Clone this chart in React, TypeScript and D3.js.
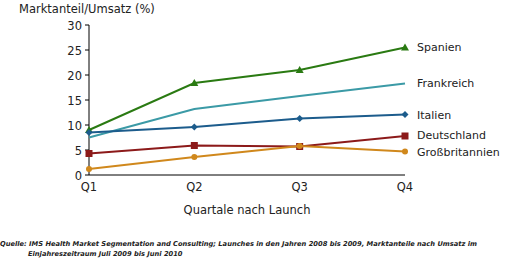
import React from "react";
import * as d3 from "d3";

const quarters = ["Q1", "Q2", "Q3", "Q4"];
const yTicks = [0, 5, 10, 15, 20, 25, 30];

const spanien = [9, 18.4, 21, 25.5];
const frankreich = [7.5, 13.2, 15.8, 18.3];
const italien = [8.5, 9.6, 11.3, 12.1];
const deutschland = [4.3, 5.9, 5.7, 7.8];
const grossbritannien = [1.2, 3.6, 5.8, 4.7];

const seriesNames = ["Spanien", "Frankreich", "Italien", "Deutschland", "Großbritannien"];
const seriesColors = ["#2a7a12", "#3b9aa6", "#1c5c8c", "#8c1a1a", "#d0881c"];
const seriesMarkers = ["triangle", "none", "diamond", "square", "circle"];
const labelValues = [25.6, 18.4, 12.1, 8, 4.6];

const FONT = "Tahoma, 'DejaVu Sans', Verdana, sans-serif";

export default function App() {
  const width = 505;
  const height = 262;
  const left = 89;
  const right = 405;
  const top = 25;
  const bottom = 175;

  const x = d3.scalePoint<string>().domain(quarters).range([left, right]);
  const y = d3.scaleLinear().domain([0, 30]).range([bottom, top]);

  const allSeries = [spanien, frankreich, italien, deutschland, grossbritannien];

  const line = d3
    .line<number>()
    .x((_, i) => x(quarters[i]) as number)
    .y((d) => y(d));

  const marker = (kind: string, cx: number, cy: number, color: string, key: string) => {
    if (kind === "triangle") {
      return <path key={key} d={`M${cx},${cy - 4}L${cx + 4},${cy + 3}L${cx - 4},${cy + 3}Z`} fill={color} />;
    }
    if (kind === "diamond") {
      return <path key={key} d={`M${cx},${cy - 3.5}L${cx + 3.5},${cy}L${cx},${cy + 3.5}L${cx - 3.5},${cy}Z`} fill={color} />;
    }
    if (kind === "square") {
      return <rect key={key} x={cx - 3.5} y={cy - 3.5} width={7} height={7} fill={color} />;
    }
    if (kind === "circle") {
      return <circle key={key} cx={cx} cy={cy} r={3} fill={color} />;
    }
    return null;
  };

  return (
    <svg
      width={width}
      height={height}
      style={{ position: "absolute", left: 0, top: 0, background: "#fff" }}
      fontFamily={FONT}
    >
      <text x={19} y={13} fontSize={11.5} fill="#222">
        Marktanteil/Umsatz (%)
      </text>

      {/* y axis */}
      <line x1={left} y1={top} x2={left} y2={bottom} stroke="#000" />
      {yTicks.map((t) => (
        <g key={t}>
          <line x1={left - 4} y1={y(t)} x2={left} y2={y(t)} stroke="#000" />
          <text x={left - 7} y={y(t) + 4.5} fontSize={11.5} textAnchor="end" fill="#222">
            {t}
          </text>
        </g>
      ))}

      {/* x axis */}
      <line x1={left} y1={bottom} x2={right} y2={bottom} stroke="#000" />
      {quarters.map((q) => (
        <text key={q} x={x(q)} y={bottom + 16} fontSize={11.5} textAnchor="middle" fill="#222">
          {q}
        </text>
      ))}
      <text x={(left + right) / 2} y={214} fontSize={11.5} textAnchor="middle" fill="#222">
        Quartale nach Launch
      </text>

      {allSeries.map((s, si) => (
        <g key={seriesNames[si]}>
          <path d={line(s) || ""} fill="none" stroke={seriesColors[si]} strokeWidth={2} />
          {s.map((v, i) =>
            marker(seriesMarkers[si], x(quarters[i]) as number, y(v), seriesColors[si], seriesNames[si] + i)
          )}
          <text x={417} y={y(labelValues[si]) + 4} fontSize={11} fill="#222">
            {seriesNames[si]}
          </text>
        </g>
      ))}

      <text x={0} y={246} fontSize={6.7} fontWeight="bold" fontStyle="italic" fill="#222">
        Quelle: IMS Health Market Segmentation and Consulting; Launches in den Jahren 2008 bis 2009, Marktanteile nach Umsatz im
      </text>
      <text x={28} y={256} fontSize={6.7} fontWeight="bold" fontStyle="italic" fill="#222">
        Einjahreszeitraum Juli 2009 bis Juni 2010
      </text>
    </svg>
  );
}
